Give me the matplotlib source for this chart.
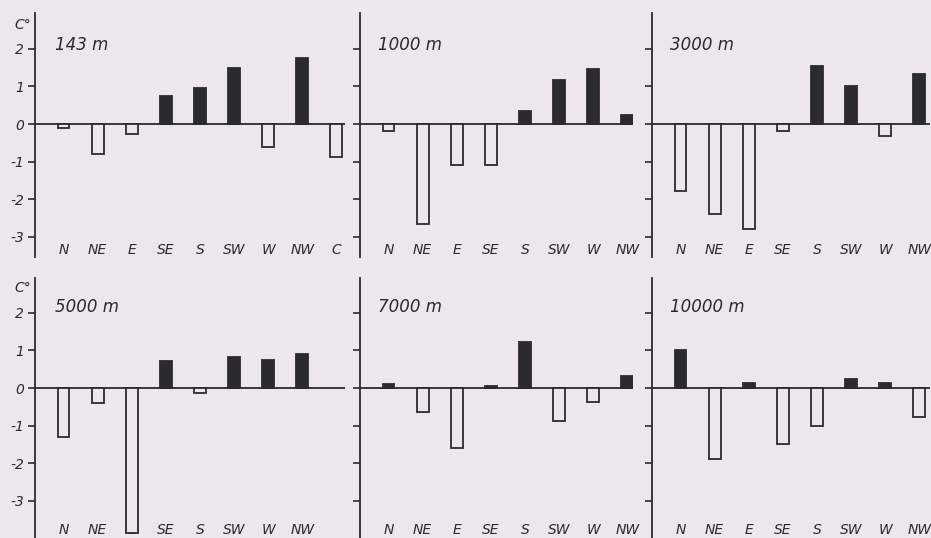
import matplotlib.pyplot as plt
import numpy as np

# Temperature anomaly (C°) by wind direction at six heights
dirs_143 = ["N", "NE", "E", "SE", "S", "SW", "W", "NW", "C"]
vals_143 = [-0.1, -0.8, -0.27, 0.75, 0.95, 1.48, -0.62, 1.75, -0.88]

dirs = ["N", "NE", "E", "SE", "S", "SW", "W", "NW"]
vals_1000 = [-0.18, -2.67, -1.09, -1.09, 0.34, 1.18, 1.47, 0.24]
vals_3000 = [-1.79, -2.39, -2.79, -0.18, 1.53, 1.02, -0.31, 1.33]
vals_5000 = [-1.3, -0.4, -3.86, 0.71, -0.12, 0.82, 0.74, 0.9]
vals_7000 = [0.1, -0.64, -1.59, 0.04, 1.22, -0.88, -0.37, 0.32]
vals_10000 = [1.01, -1.9, 0.12, -1.5, -1.0, 0.24, 0.12, -0.77]

titles = ["143 m", "1000 m", "3000 m", "5000 m", "7000 m", "10000 m"]
yticks = [-3, -2, -1, 0, 1, 2]
ytick_labels = ["-3", "-2", "-1", "0", "1", "2"]

BG = "#ebe7ea"
INK = "#2b2a2c"
plt.rcParams["font.family"] = ["DejaVu Sans"]

W, H = 931, 538
fig = plt.figure(figsize=(W / 100, H / 100), dpi=100, facecolor=BG)

step = 34.1      # px between bar centres
first = 28.5     # px from axis to first bar
unit = 37.6      # px per degree
cols = [(35, 345), (360, 633), (652, 930)]
rows = [(13, 257, 124, -3.35), (278, 538, 388, -3.78)]
unit_label_y = [25, 288]

panels = [
    (dirs_143, vals_143), (dirs, vals_1000), (dirs, vals_3000),
    (dirs, vals_5000), (dirs, vals_7000), (dirs, vals_10000),
]

for k, (names, vals) in enumerate(panels):
    r, c = divmod(k, 3)
    top, bot, zero, ylab = rows[r]
    x0, x1 = cols[c]
    ax = fig.add_axes([x0 / W, 1 - bot / H, (x1 - x0) / W, (bot - top) / H])
    ax.set_facecolor("none")
    ax.set_xlim(-first / step, (x1 - x0 - first) / step)
    ax.set_ylim(-(bot - zero) / unit, (zero - top) / unit)
    for s in ["top", "right", "bottom"]:
        ax.spines[s].set_visible(False)
    ax.spines["left"].set_color(INK)
    ax.spines["left"].set_linewidth(1.3)
    ax.set_xticks([])
    ax.set_yticks(yticks)
    ax.tick_params(axis="y", direction="out", length=5, width=1.2,
                   color=INK, pad=3)
    if c == 0:
        ax.set_yticklabels(ytick_labels, fontsize=10, style="italic", color=INK)
        fig.text(14 / W, 1 - unit_label_y[r] / H, "C°", fontsize=10,
                 style="italic", color=INK, ha="left", va="center")
    else:
        ax.set_yticklabels([])
    ax.axhline(0, color=INK, lw=1.3, zorder=1)

    x = np.arange(len(vals))
    v = np.array(vals)
    colors = [INK if val > 0 else BG for val in v]
    ax.bar(x, v, width=0.35, color=colors, edgecolor=INK, linewidth=1.3, zorder=3)

    for i, name in enumerate(names):
        ax.text(i, ylab, name, ha="center", va="center", fontsize=10,
                style="italic", color=INK, zorder=2)
    ax.text(0.065, 0.87 if r == 0 else 0.89, titles[k],
            transform=ax.transAxes, fontsize=12, style="italic", color=INK,
            ha="left", va="center")

fig.savefig("out.png", dpi=100, facecolor=BG)
